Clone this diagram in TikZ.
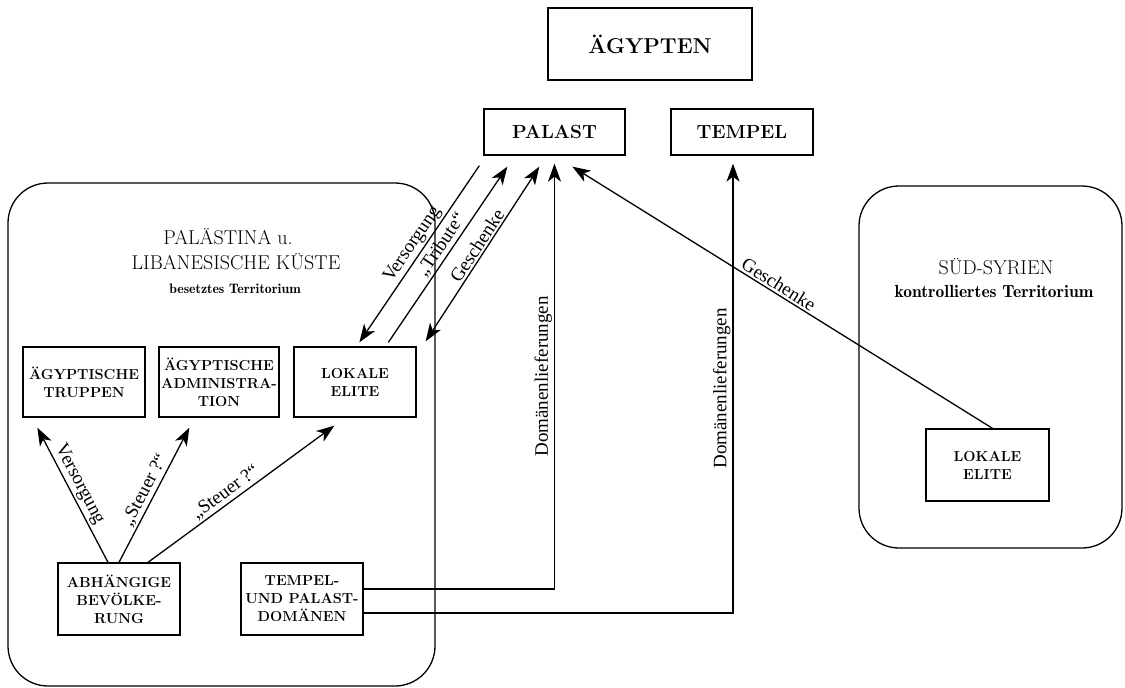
\documentclass[tikz,border=0pt]{standalone}
\usepackage{fontspec}
\newfontfamily\labfont{Liberation Serif}
\newfontfamily\demifont{Latin Modern Roman Demi}
\usetikzlibrary{arrows.meta,calc}
\begin{document}
\begin{tikzpicture}[x=1pt,y=-1pt,
  box/.style={draw, line width=1.3pt, align=center, inner sep=0pt, font=\bfseries\fontsize{14.5}{18}\selectfont},
  region/.style={draw, line width=1.3pt, rounded corners=40pt, inner sep=0pt},
  conn/.style={line width=1.3pt},
  arr/.style={conn, -{Stealth[length=18pt,width=13pt,inset=5pt]}},
  darr/.style={conn, {Stealth[length=18pt,width=13pt,inset=5pt]}-{Stealth[length=18pt,width=13pt,inset=5pt]}},
  lab/.style={font=\labfont\fontsize{19}{22}\selectfont, sloped, above, inner sep=2pt},
  ttl/.style={font=\fontsize{20}{24}\selectfont, inner sep=0pt},
  sub/.style={font=\demifont\fontsize{13.8}{16}\selectfont, inner sep=0pt}
]
\useasboundingbox (0,0) rectangle (1125,688);

% regions
\node[region, minimum width=427pt, minimum height=503pt] (pal) at (221.5,434.5) {};
\node[region, minimum width=263pt, minimum height=362pt] (syr) at (990.5,367) {};

% titles
\node[ttl] (t1) at (228,237) {PALÄSTINA u.};
\node[ttl] (t2) at (236,262) {LIBANESISCHE KÜSTE};
\node[sub] (t3) at (235,289) {besetztes Territorium};
\node[ttl] (s1) at (996,267) {SÜD-SYRIEN};
\node[sub, font=\demifont\fontsize{17.5}{20}\selectfont] (s2) at (994,291) {kontrolliertes Territorium};

% boxes
\node[box, font=\bfseries\fontsize{21.5}{24}\selectfont, minimum width=204pt, minimum height=72pt] (aeg) at (650,44) {ÄGYPTEN};
\node[box, font=\bfseries\fontsize{19}{22}\selectfont, minimum width=141pt, minimum height=46pt] (palast) at (554.5,132) {PALAST};
\node[box, font=\bfseries\fontsize{19}{22}\selectfont, minimum width=142pt, minimum height=46pt] (tempel) at (742,132) {TEMPEL};
\node[box, minimum width=122pt, minimum height=70pt] (trup) at (84,382) {ÄGYPTISCHE\\TRUPPEN};
\node[box, minimum width=120pt, minimum height=70pt] (adm) at (219,382) {ÄGYPTISCHE\\ADMINISTRA-\\TION};
\node[box, minimum width=122pt, minimum height=70pt] (elite) at (355,382) {LOKALE\\ELITE};
\node[box, minimum width=122pt, minimum height=72pt] (abh) at (119,599) {ABHÄNGIGE\\BEVÖLKE-\\RUNG};
\node[box, minimum width=122pt, minimum height=72pt] (dom) at (302,599) {TEMPEL-\\UND PALAST-\\DOMÄNEN};
\node[box, minimum width=123pt, minimum height=72pt] (elite2) at (987.5,465) {LOKALE\\ELITE};

% connectors inside Palestine
\draw[arr] ($(abh.north)+(-11,0)$) -- node[lab,pos=.54]{Versorgung} ($(trup.south west)+(15,10)$);
\draw[arr] (abh.north) -- node[lab,pos=.5]{„Steuer ?“} ($(adm.south west)+(31,10)$);
\draw[arr] ($(abh.north)+(29,0)$) -- node[lab,pos=.45]{„Steuer ?“} ($(elite.south west)+(41,8)$);

% connectors to palace
\draw[arr] ($(palast.south west)+(-4,10)$) -- node[lab,pos=.48]{Versorgung} ($(elite.north west)+(66,-4)$);
\draw[arr] ($(elite.north west)+(95,-4)$) -- node[lab,pos=.52]{„Tribute“} ($(palast.south west)+(24,11)$);
\draw[darr] ($(elite.north east)+(9,-5)$) -- node[lab,pos=.52]{Geschenke} ($(palast.south west)+(56,11)$);
\draw[arr] ($(elite2.north)+(5,0)$) -- node[lab,pos=.52]{Geschenke} ($(palast.south west)+(89,11)$);

% domain deliveries
\draw[arr] ($(dom.east)+(0,-10)$) -| node[lab,pos=.75]{Domänenlieferungen} ($(palast.south)+(0,8)$);
\draw[arr] ($(dom.east)+(0,14)$) -| node[lab,pos=.75]{Domänenlieferungen} ($(tempel.south)+(-9,8)$);
\end{tikzpicture}
\end{document}
